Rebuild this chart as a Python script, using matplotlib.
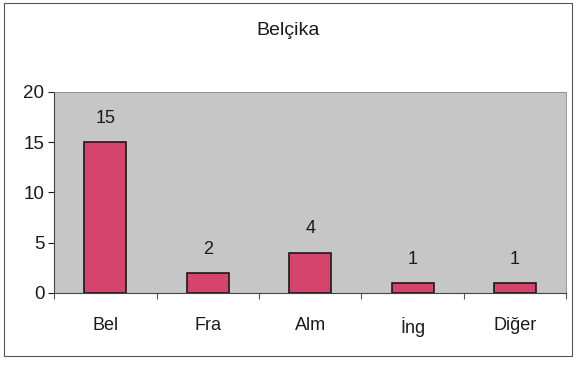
import numpy as np
import matplotlib.pyplot as plt
from matplotlib.patches import Rectangle

plt.rcParams['font.family'] = ['Liberation Sans', 'DejaVu Sans']

title = "Belçika"
categories = ["Bel", "Fra", "Alm", "İng", "Diğer"]
values = [15, 2, 4, 1, 1]

fig = plt.figure(figsize=(5.76, 3.68), dpi=100)
fig.patch.set_facecolor("white")

# outer chart frame
fig.add_artist(Rectangle((0.007, 0.033), 0.986, 0.959, transform=fig.transFigure,
                         fill=False, edgecolor="#555555", linewidth=0.8))

ax = fig.add_axes([0.094, 0.204, 0.889, 0.546])
ax.set_facecolor("#c6c6c6")

x = np.arange(len(categories))
bars = ax.bar(x, values, width=0.41, color="#d4446c", edgecolor="#1a1a1a", linewidth=1.2, zorder=3)

for xi, v in zip(x, values):
    ax.annotate(str(v), (xi, v), xytext=(0, 11), textcoords="offset points",
                ha="center", va="bottom", fontsize=13, color="#1a1a1a")

ax.set_xlim(-0.5, len(categories) - 0.5)
ax.set_ylim(0, 20)
ax.set_yticks([0, 5, 10, 15, 20])
ax.tick_params(axis="y", direction="out", length=4, labelsize=13.5, pad=3, colors="#1a1a1a")

# ticks sit on the category boundaries, labels in the middle
ax.set_xticks(np.arange(len(categories) + 1) - 0.5)
ax.set_xticklabels([])
ax.set_xticks(x, minor=True)
ax.set_xticklabels(categories, minor=True, fontsize=13, color="#1a1a1a")
ax.tick_params(axis="x", which="major", direction="out", length=4, color="#555555")
ax.tick_params(axis="x", which="minor", length=0, pad=17)

for side in ["top", "right"]:
    ax.spines[side].set_color("#888888")
    ax.spines[side].set_linewidth(0.6)
ax.spines["left"].set_color("#444444")
ax.spines["bottom"].set_color("#444444")

fig.text(0.5, 0.918, title, ha="center", va="center", fontsize=14, color="#1a1a1a")

fig.savefig("out.png", dpi=100)
